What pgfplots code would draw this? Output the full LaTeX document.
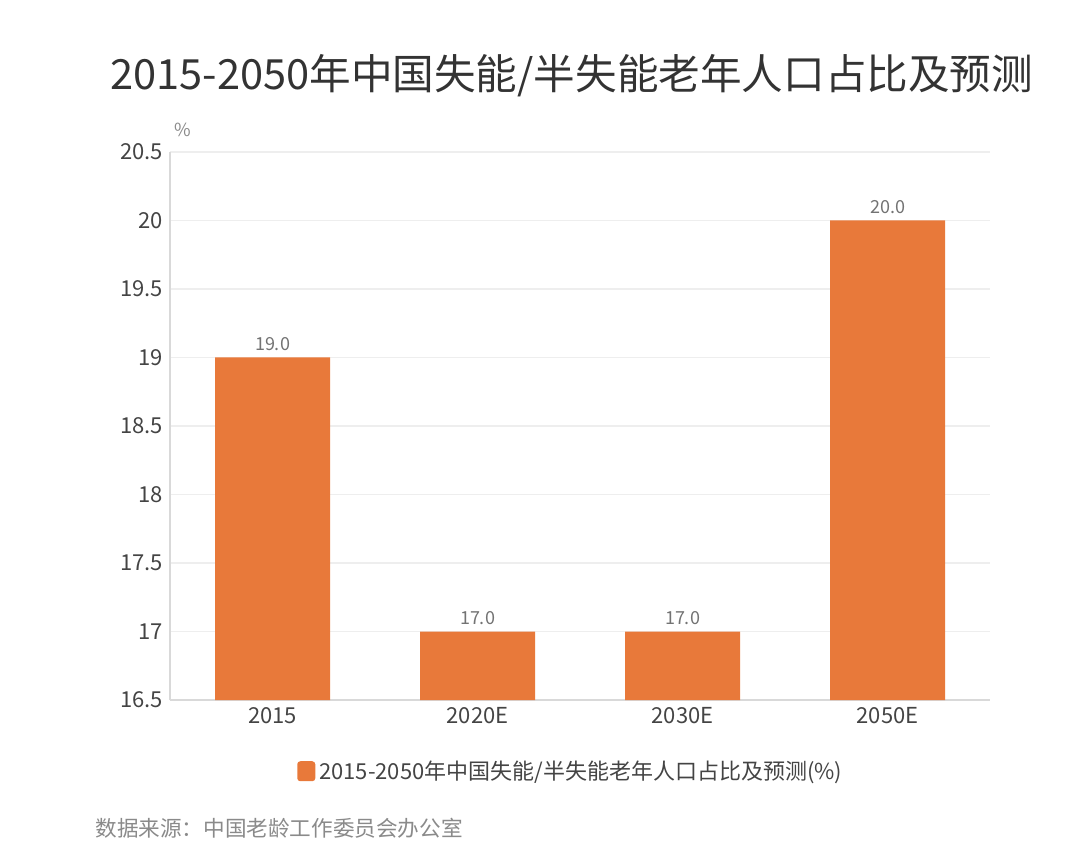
\documentclass[border=0pt]{standalone}
\usepackage{pgfplots}
\pgfplotsset{compat=1.18}
\usepackage{fontspec}
\setmainfont{Noto Sans CJK SC}
\definecolor{barc}{HTML}{E8793A}
\definecolor{titlec}{HTML}{333333}
\definecolor{tickc}{HTML}{444444}
\definecolor{gridc}{HTML}{EEEEEE}
\definecolor{srcc}{HTML}{8A8A8A}
\begin{document}
\begin{tikzpicture}
\path[use as bounding box] (0,0) rectangle (540pt,431pt);
\node[anchor=west, text=titlec, font=\fontsize{20.8}{24}\selectfont, inner sep=0pt] at (55pt,393pt) {2015-2050年中国失能/半失能老年人口占比及预测};
\node[anchor=center, text=srcc, font=\fontsize{9}{11}\selectfont] at (91.5pt,366pt) {\%};
\node[anchor=west, text=srcc, font=\fontsize{10.8}{13}\selectfont, inner sep=0pt] at (47.5pt,17pt) {数据来源：中国老龄工作委员会办公室};
\begin{axis}[
  at={(85pt,81pt)}, anchor=south west,
  scale only axis, width=410pt, height=274pt,
  ymin=16.5, ymax=20.5,
  ytick={16.5,17,17.5,18,18.5,19,19.5,20,20.5},
  yticklabels={16.5,17,17.5,18,18.5,19,19.5,20,20.5},
  xmin=-0.5, xmax=3.5,
  xtick={0,1,2,3},
  xticklabels={2015,2020E,2030E,2050E},
  ybar, bar width=57.5pt,
  axis x line*=bottom, axis y line*=left,
  axis line style={draw=gray!30, line width=0.6pt, -},
  major tick length=0pt,
  ymajorgrids, grid style={draw=gridc, line width=0.6pt},
  tick label style={text=tickc, font=\fontsize{11}{13}\selectfont},
  /pgf/number format/assume math mode=true,
  nodes near coords,
  nodes near coords style={text=gray!90!black, font=\fontsize{9}{11}\selectfont, /pgf/number format/fixed, /pgf/number format/zerofill, /pgf/number format/precision=1},
  legend style={at={(0.49,-0.13)}, anchor=center, draw=none, fill=none, font=\fontsize{11}{13}\selectfont, text=tickc},
  legend image code/.code={\fill[barc, rounded corners=1.5pt] (0pt,-5pt) rectangle (9pt,5pt);},
  clip=false,
]
\addplot[fill=barc, draw=none] coordinates {(0,19) (1,17) (2,17) (3,20)};
\addlegendentry{2015-2050年中国失能/半失能老年人口占比及预测(\%)}
\end{axis}
\end{tikzpicture}
\end{document}
